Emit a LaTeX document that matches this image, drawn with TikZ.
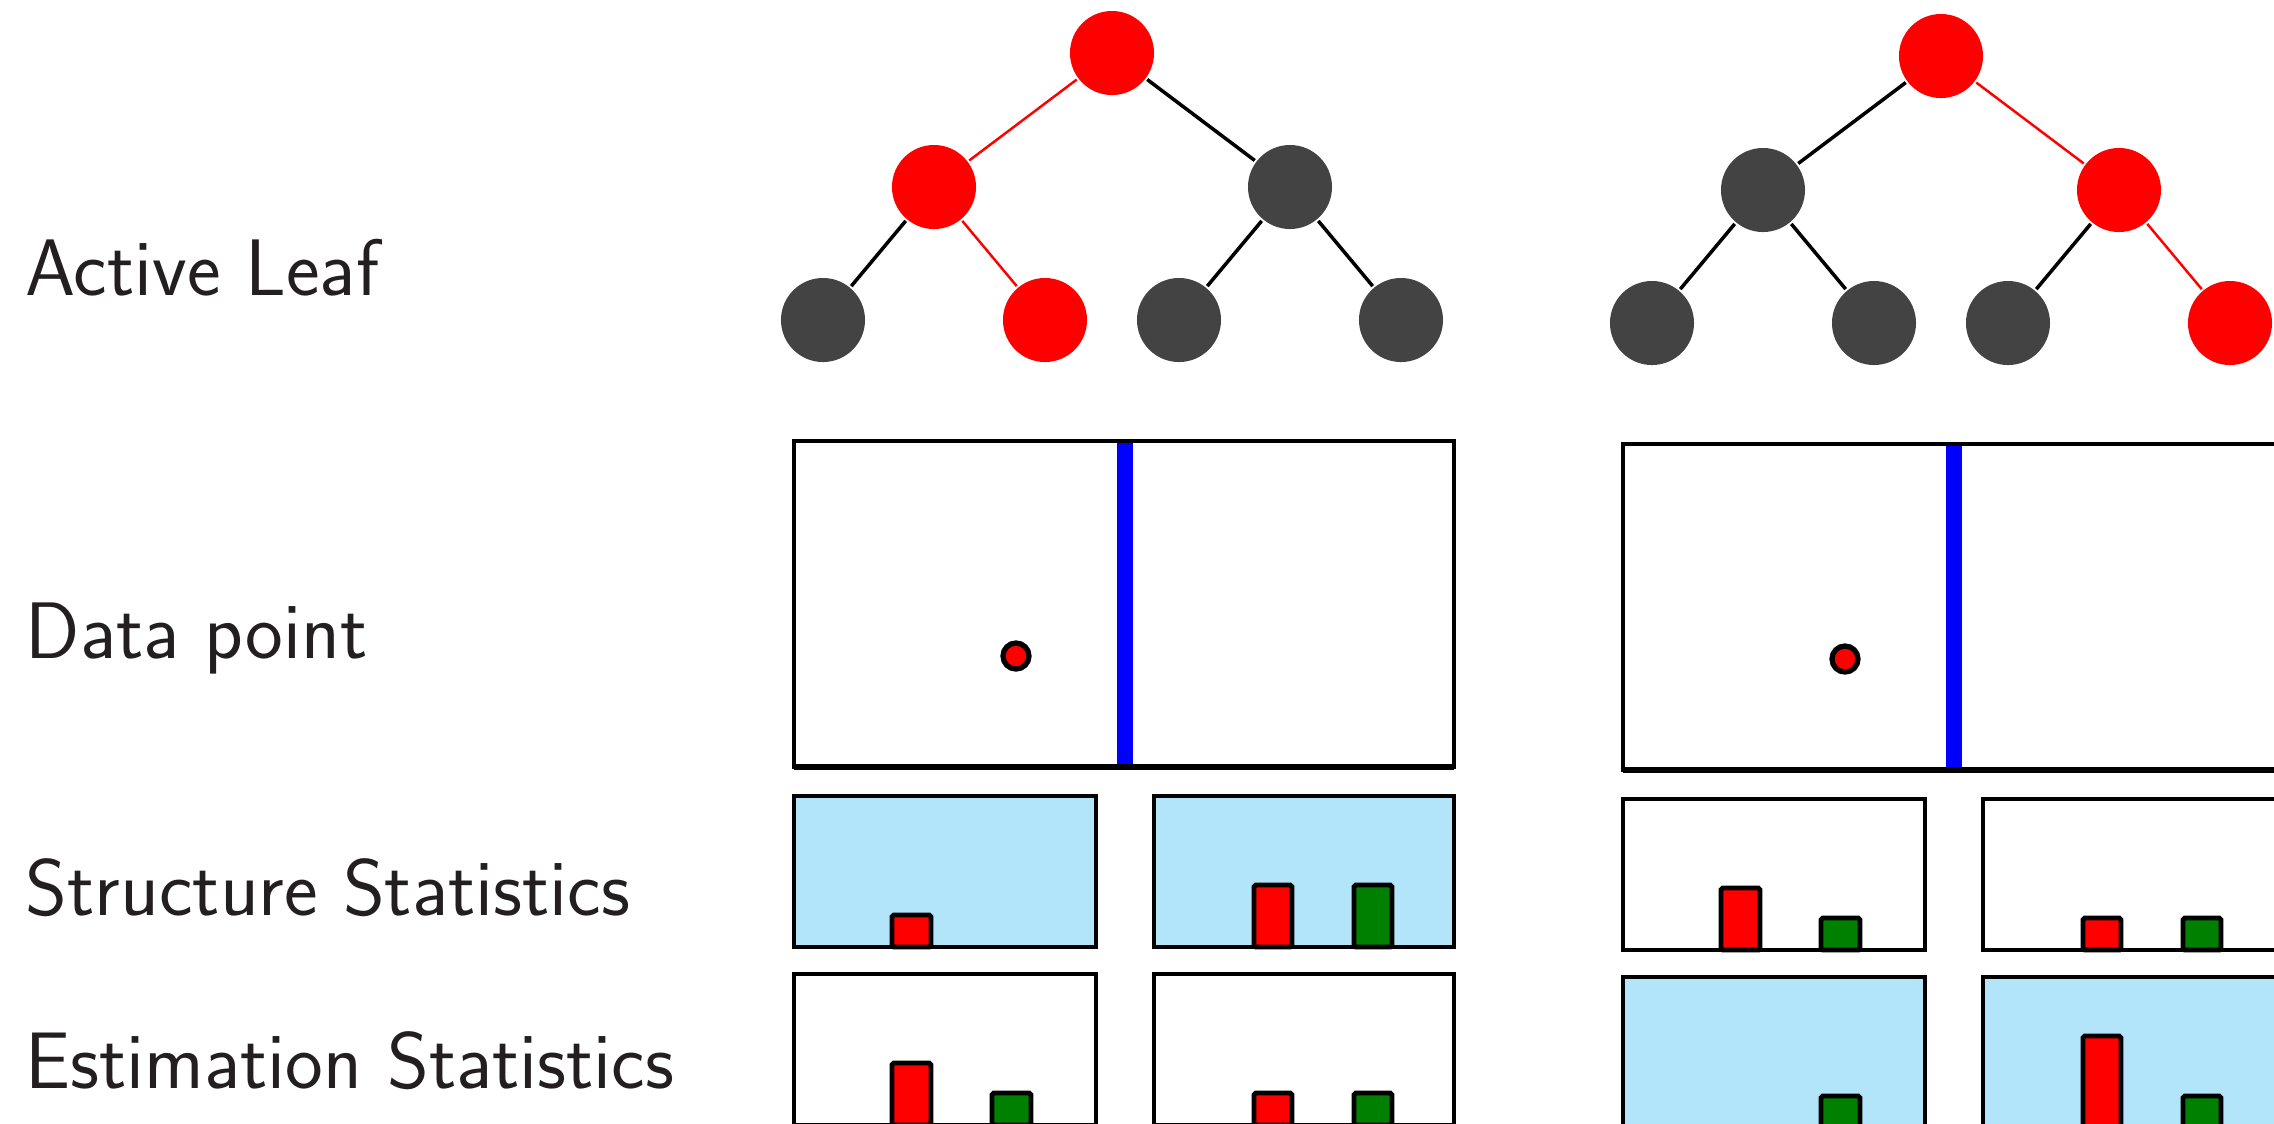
\documentclass[tikz,border=0pt]{standalone}
\usepackage{fontspec}
\usetikzlibrary{positioning}

\definecolor{nodegray}{RGB}{67,67,67}
\definecolor{statblue}{RGB}{179,229,250}
\definecolor{bargreen}{RGB}{0,128,0}
\definecolor{labelgray}{RGB}{35,31,32}

\tikzset{
  treenode/.style={circle, inner sep=0pt, minimum size=0.84cm, outer sep=0.6pt},
  hotnode/.style={treenode, fill=red},
  coldnode/.style={treenode, fill=nodegray},
  coldedge/.style={black, line width=1pt},
  hotedge/.style={red, line width=0.7pt},
  statbox/.style={draw=black, line width=1.4pt},
  bar/.style={draw=black, line width=1.4pt, rounded corners=0.5pt},
  rowlabel/.style={anchor=base west, inner sep=0pt, text=labelgray, font=\sffamily\fontsize{22.8}{27}\selectfont},
}

\begin{document}
\begin{tikzpicture}[x=0.01cm, y=-0.01cm]
  \useasboundingbox (0,0) rectangle (2274,1123);
  \clip (0,0) rectangle (2274,1123);

  % row labels
  \node[rowlabel] (lblleaf) at (25,295) {Active Leaf};
  \node[rowlabel] (lblpoint) at (25,658) {Data point};
  \node[rowlabel] (lblstruct) at (25,915) {Structure Statistics};
  \node[rowlabel] (lblest) at (25,1088) {Estimation Statistics};

  % first tree, path to the second leaf
  \node[hotnode] (a-root) at (1112,53) {};
  \node[hotnode] (a-l) at (934,187) {};
  \node[coldnode] (a-r) at (1290,187) {};
  \node[coldnode] (a-ll) at (823,320) {};
  \node[hotnode] (a-lr) at (1045,320) {};
  \node[coldnode] (a-rl) at (1179,320) {};
  \node[coldnode] (a-rr) at (1401,320) {};
  \draw[hotedge] (a-root) -- (a-l);
  \draw[coldedge] (a-root) -- (a-r);
  \draw[coldedge] (a-l) -- (a-ll);
  \draw[hotedge] (a-l) -- (a-lr);
  \draw[coldedge] (a-r) -- (a-rl);
  \draw[coldedge] (a-r) -- (a-rr);

  % first data panel
  \draw[blue, line width=4.8pt] (1125,441) -- (1125,767);
  \draw[line width=1.2pt] (794,441) rectangle (1454,767);
  \draw[line width=1.8pt] (794,767) -- (1454,767);
  \draw[line width=1.5pt, fill=red] (1016,656) circle (0.13cm);

  % first structure statistics
  \draw[statbox, fill=statblue] (794,796) rectangle (1096,947);
  \draw[statbox, fill=statblue] (1154,796) rectangle (1454,947);
  \draw[bar, fill=red] (892,947) rectangle (931,915);
  \draw[bar, fill=red] (1254,947) rectangle (1292,885);
  \draw[bar, fill=bargreen] (1354,947) rectangle (1392,885);

  % first estimation statistics
  \draw[statbox] (794,974) rectangle (1096,1125);
  \draw[statbox] (1154,974) rectangle (1454,1125);
  \draw[bar, fill=red] (892,1125) rectangle (931,1063);
  \draw[bar, fill=bargreen] (992,1125) rectangle (1031,1093);
  \draw[bar, fill=red] (1254,1125) rectangle (1292,1093);
  \draw[bar, fill=bargreen] (1354,1125) rectangle (1392,1093);

  \begin{scope}[shift={(829,3)}]
    % second tree, path to the last leaf
    \node[hotnode] (b-root) at (1112,53) {};
    \node[coldnode] (b-l) at (934,187) {};
    \node[hotnode] (b-r) at (1290,187) {};
    \node[coldnode] (b-ll) at (823,320) {};
    \node[coldnode] (b-lr) at (1045,320) {};
    \node[coldnode] (b-rl) at (1179,320) {};
    \node[hotnode] (b-rr) at (1401,320) {};
    \draw[coldedge] (b-root) -- (b-l);
    \draw[hotedge] (b-root) -- (b-r);
    \draw[coldedge] (b-l) -- (b-ll);
    \draw[coldedge] (b-l) -- (b-lr);
    \draw[coldedge] (b-r) -- (b-rl);
    \draw[hotedge] (b-r) -- (b-rr);

    % second data panel
    \draw[blue, line width=4.8pt] (1125,441) -- (1125,767);
    \draw[line width=1.2pt] (794,441) rectangle (1454,767);
    \draw[line width=1.8pt] (794,767) -- (1454,767);
    \draw[line width=1.5pt, fill=red] (1016,656) circle (0.13cm);

    % second structure statistics
    \draw[statbox] (794,796) rectangle (1096,947);
    \draw[statbox] (1154,796) rectangle (1454,947);
    \draw[bar, fill=red] (892,947) rectangle (931,885);
    \draw[bar, fill=bargreen] (992,947) rectangle (1031,915);
    \draw[bar, fill=red] (1254,947) rectangle (1292,915);
    \draw[bar, fill=bargreen] (1354,947) rectangle (1392,915);

    % second estimation statistics
    \draw[statbox, fill=statblue] (794,974) rectangle (1096,1125);
    \draw[statbox, fill=statblue] (1154,974) rectangle (1454,1125);
    \draw[bar, fill=bargreen] (992,1125) rectangle (1031,1093);
    \draw[bar, fill=red] (1254,1125) rectangle (1292,1033);
    \draw[bar, fill=bargreen] (1354,1125) rectangle (1392,1093);
  \end{scope}
\end{tikzpicture}
\end{document}
